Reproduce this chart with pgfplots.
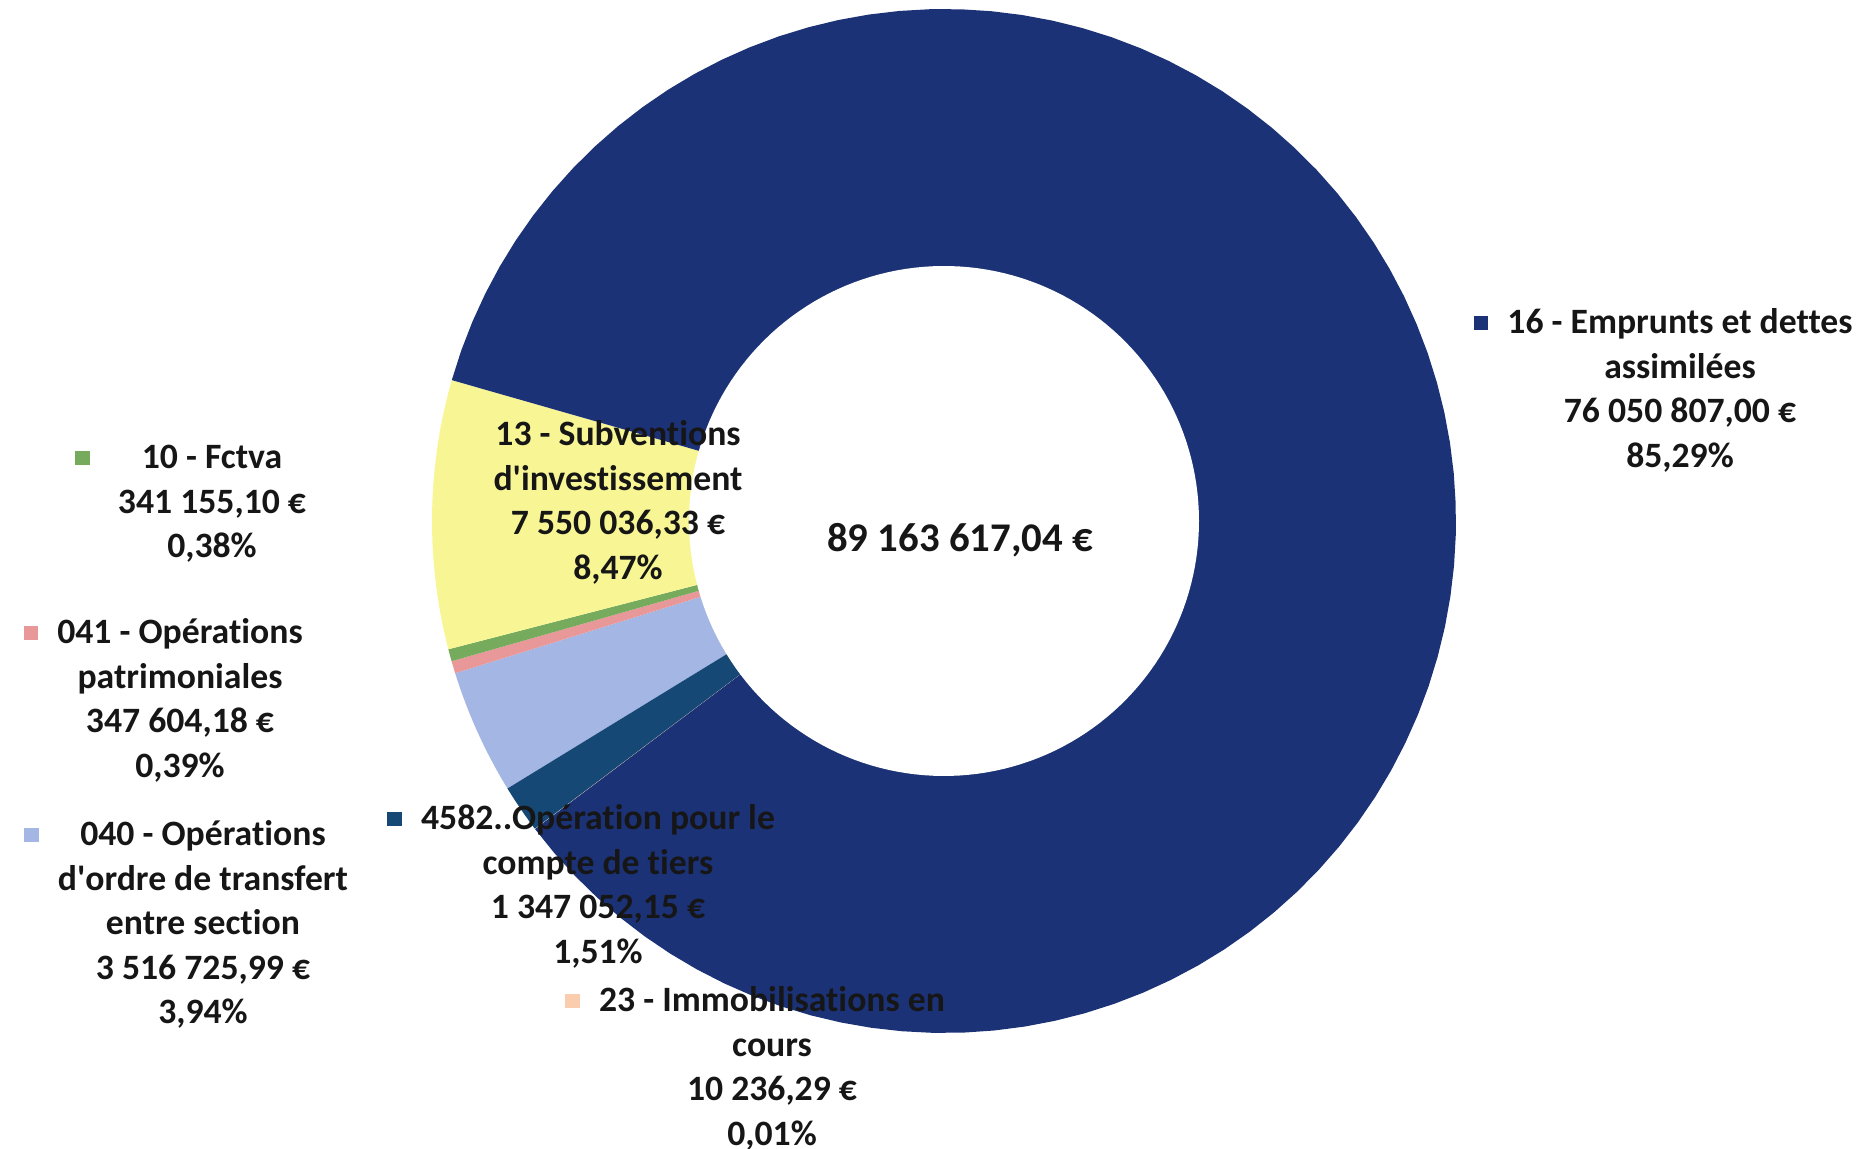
\documentclass[border=0pt]{standalone}
\usepackage{fontspec}
\setmainfont{Carlito}[Ligatures=NoCommon]
\usepackage{pgfplots}
\pgfplotsset{compat=1.18}
\usepackage{pgfplotstable}

% slice colours
\definecolor{c040}{RGB}{164,182,228}
\definecolor{c041}{RGB}{232,152,152}
\definecolor{c10}{RGB}{118,170,92}
\definecolor{c13}{RGB}{248,246,148}
\definecolor{c16}{RGB}{28,50,118}
\definecolor{c23}{RGB}{250,205,175}
\definecolor{c4582}{RGB}{22,72,118}
\definecolor{txt}{RGB}{22,22,22}

% values in millions of euros, in drawing order (clockwise)
\pgfplotstableread{
val col
3.51672599 c040
0.34760418 c041
0.34115510 c10
7.55003633 c13
76.05080700 c16
0.01023629 c23
1.34705215 c4582
}\donut

\newcommand\mk[2][5.5pt]{\llap{\textcolor{#2}{\rule[1.1pt]{4.1pt}{4.1pt}}\hspace{#1}}}
\newcommand\lbl[4]{\node[anchor=base, text=txt, inner sep=0pt,
  font=\fontsize{10.15}{12.66}\selectfont\bfseries] at (axis cs:#1,#2)
  {#3\begin{tabular}[t]{@{}c@{}}#4\end{tabular}};}

\begin{document}
\begin{tikzpicture}
\begin{axis}[
  width=18.62cm, height=11.49cm, scale only axis,
  xmin=0, xmax=1862, ymin=0, ymax=1149,
  hide axis, clip=false,
]
\pgfplotstablegetrowsof{\donut}
\pgfmathtruncatemacro\nrows{\pgfplotsretval-1}
\xdef\tot{0}
\pgfplotsforeachungrouped \i in {0,...,\nrows}{%
  \pgfplotstablegetelem{\i}{val}\of\donut
  \pgfmathsetmacro\s{\tot+\pgfplotsretval}\xdef\tot{\s}}
\xdef\ang{211.5}
\pgfplotsforeachungrouped \i in {0,...,\nrows}{%
  \pgfplotstablegetelem{\i}{val}\of\donut \let\v\pgfplotsretval
  \pgfplotstablegetelem{\i}{col}\of\donut \let\c\pgfplotsretval
  \pgfmathsetmacro\nxt{\ang-\v/\tot*360}
  \edef\cmd{\noexpand\addplot[fill=\c, draw=none, domain=\nxt:\ang, samples=90, variable=\noexpand\t]
    ({944+512*cos(\noexpand\t)},{628+512*sin(\noexpand\t)}) -- (axis cs:944,628) -- cycle;}
  \cmd
  \xdef\ang{\nxt}}
% hole
\addplot[fill=white, draw=none, domain=0:360, samples=180]
  ({944+255*cos(x)},{628+255*sin(x)}) -- cycle;

\node[text=txt, font=\fontsize{11.6}{13}\selectfont\bfseries] at (axis cs:960,609) {89 163 617,04 €};

\lbl{1680}{815}{\mk{c16}}{16 - Emprunts et dettes\\assimilées\\76 050 807,00 €\\85,29\%}
\lbl{618}{703}{}{13 - Subventions\\d\textquotesingle investissement\\7 550 036,33 €\\8,47\%}
\lbl{212}{680}{\mk[8pt]{c10}}{10 - Fctva\\341 155,10 €\\0,38\%}
\lbl{180}{505}{\mk{c041}}{041 - Opérations\\patrimoniales\\347 604,18 €\\0,39\%}
\lbl{203}{303}{\mk{c040}}{040 - Opérations\\d\textquotesingle ordre de transfert\\entre section\\3 516 725,99 €\\3,94\%}
\lbl{598}{319}{\mk{c4582}}{4582..Opération pour le\\compte de tiers\\1 347 052,15 €\\1,51\%}
\lbl{772}{137}{\mk{c23}}{23 - Immobilisations en\\cours\\10 236,29 €\\0,01\%}
\end{axis}
\pgfresetboundingbox
\path (current axis.south west) rectangle (current axis.north east);
\end{tikzpicture}
\end{document}
